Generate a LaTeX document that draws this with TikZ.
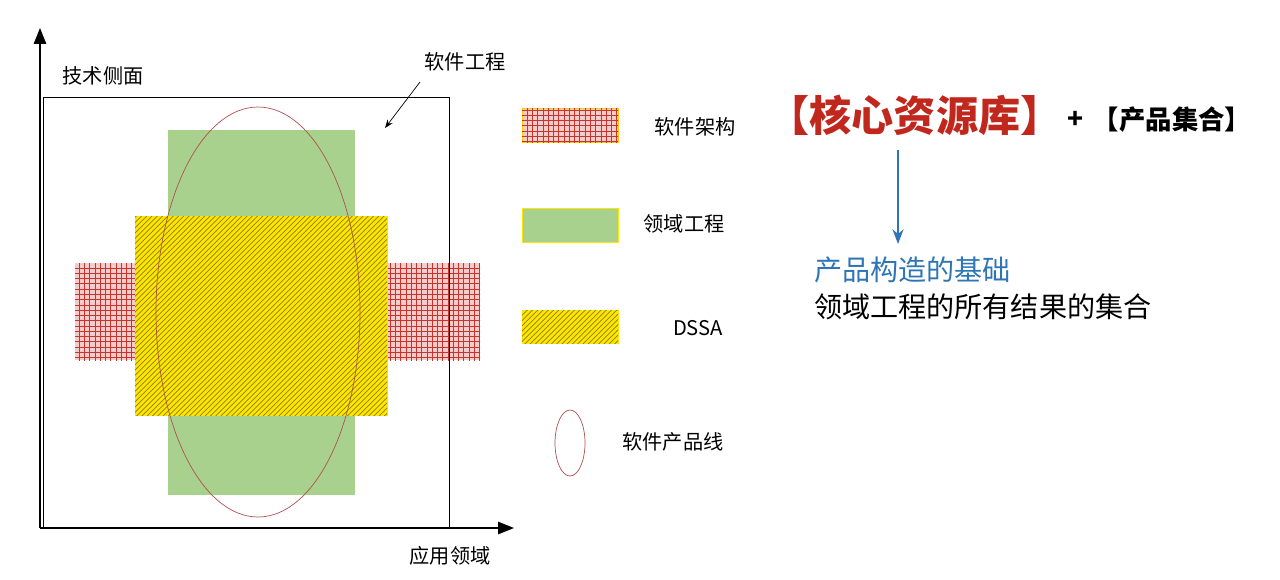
\documentclass[tikz,border=0pt]{standalone}
\usepackage{fontspec}
\setmainfont{Noto Sans CJK SC}
\usetikzlibrary{arrows.meta, positioning, patterns}
\definecolor{leafgreen}{HTML}{A9D18E}
\definecolor{hatchyellow}{HTML}{FFE600}
\definecolor{gridred}{HTML}{C8332B}
\definecolor{ovalred}{HTML}{B0504F}
\definecolor{corered}{HTML}{C0281E}
\definecolor{baseblue}{HTML}{2E75B6}

\tikzset{
  gridbox/.style={fill=gridred!25, postaction={pattern=grid, pattern color=gridred}},
  greenbox/.style={fill=leafgreen},
  dssabox/.style={fill=hatchyellow, postaction={pattern=north east lines, pattern color=black!45!hatchyellow}},
  oval/.style={draw=ovalred, thin},
  lbl/.style={font=\fontsize{11.5}{13}\selectfont}
}

\begin{document}
\begin{tikzpicture}[x=0.02cm, y=-0.02cm]
    \useasboundingbox (0,0) rectangle (1280,579);

    % Domains
    \fill[greenbox] (168,130) rectangle (355,495);
    \fill[gridbox] (75,263) rectangle (480,360);
    \draw[dssabox, draw=hatchyellow] (135,216) rectangle (387,415);
    \draw[oval] (258,312) ellipse [x radius=102, y radius=205];

    % Axes
    \coordinate (origin) at (40,528);
    \draw[thin] (43,97) rectangle (449,528);
    \draw[-{Triangle[length=9pt,width=7pt]}, thick] (origin) -- (40,28);
    \draw[-{Triangle[length=9pt,width=7pt]}, thick] (origin) -- (514,528);
    \node[lbl] (tech) at (103,76) {技术侧面};
    \node[lbl] (appl) at (450,556) {应用领域};
    \node[lbl] (swe) at (465,62) {软件工程};
    \coordinate (swetip) at (385,128);
    \draw[-{Stealth}] (420,82) -- (swetip);

    % Legend
    \draw[gridbox, draw=hatchyellow!70!orange] (522,108) rectangle (618,142);
    \node[lbl] (arch) at (695,127) {软件架构};
    \draw[greenbox, draw=hatchyellow] (522,208) rectangle (618,242);
    \node[lbl] (domain) at (684,224) {领域工程};
    \draw[dssabox, draw=hatchyellow] (522,310) rectangle (618,343);
    \node[lbl] (dssa) at (698,328) {DSSA};
    \draw[oval] (570,443) ellipse [x radius=15, y radius=33];
    \node[lbl] (spl) at (673,442) {软件产品线};

    % Core assets
    \node[text=corered, font=\fontsize{24}{28}\selectfont\bfseries] (core) at (915,115) {【核心资源库】};
    \node[font=\fontsize{15}{17}\selectfont\bfseries] (plus) at (1076,120) {+};
    \node[font=\fontsize{15}{17}\selectfont\bfseries, right=-2pt of plus] (prod) {【产品集合】};
    \node[text=baseblue, font=\fontsize{16}{18}\selectfont, anchor=west] (base) at (808,270) {产品构造的基础};
    \node[font=\fontsize{16}{18}\selectfont, anchor=west] (result) at (808,307) {领域工程的所有结果的集合};
    \draw[-{Stealth}, very thick, baseblue] (898,150) -- (898,244);
\end{tikzpicture}
\end{document}
